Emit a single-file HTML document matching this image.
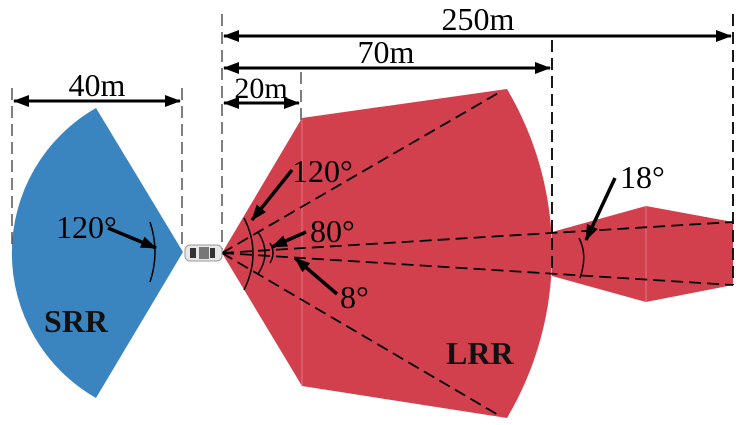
<!DOCTYPE html>
<html><head><style>html,body{margin:0;padding:0;background:#fff;}svg{display:block}</style></head>
<body>
<svg width="742" height="425" viewBox="0 0 742 425" xmlns="http://www.w3.org/2000/svg" font-family="Liberation Serif, serif">
<defs>
<marker id="b" markerWidth="16" markerHeight="12" refX="15" refY="6" orient="auto-start-reverse" markerUnits="userSpaceOnUse" viewBox="0 0 16 12"><path d="M0,0 L16,6 L0,12 z" fill="#000"/></marker>
</defs>
<path d="M183,252 L96,108 A167,167 0 0 0 96,398 Z" fill="#3a85c0"/>
<path d="M552,232 L646,206 L733,222 L733,285 L646,302 L552,276 Z" fill="#d2404e"/>
<path d="M222,253 L302,118 L507,89 A323,323 0 0 1 507,418 L302,386 Z" fill="#d2404e"/>
<line x1="302" y1="118" x2="302" y2="386" stroke="#e07a84" stroke-width="1"/>
<line x1="646" y1="206" x2="646" y2="302" stroke="#e07a84" stroke-width="1"/>
<g stroke="#555" stroke-width="1.5" stroke-dasharray="12,6" fill="none">
<line x1="12" y1="88" x2="12" y2="250"/>
<line x1="182" y1="88" x2="182" y2="250"/>
<line x1="222" y1="14" x2="222" y2="250"/>
<line x1="301" y1="72" x2="301" y2="120"/>
</g>
<g stroke="#000" stroke-width="1.8" stroke-dasharray="12,6" fill="none">
<line x1="552" y1="40" x2="552" y2="270"/>
<line x1="733" y1="14" x2="733" y2="285"/>
<line x1="222" y1="253" x2="500" y2="92"/>
<line x1="222" y1="253" x2="500" y2="416"/>
<line x1="222" y1="253" x2="733" y2="222"/>
<line x1="222" y1="253" x2="733" y2="285"/>
</g>
<g stroke="#000" stroke-width="3" marker-start="url(#b)" marker-end="url(#b)">
<line x1="14" y1="101" x2="180" y2="101"/>
<line x1="224" y1="103" x2="299" y2="103"/>
<line x1="224" y1="68" x2="550" y2="68"/>
<line x1="224" y1="36" x2="731" y2="36"/>
</g>
<g font-size="32" fill="#000">
<text x="97" y="96" text-anchor="middle">40m</text>
<text x="261" y="98" text-anchor="middle" font-size="30">20m</text>
<text x="386" y="63" text-anchor="middle">70m</text>
<text x="478" y="30" text-anchor="middle">250m</text>
<text x="56" y="238">120°</text>
<text x="292" y="182">120°</text>
<text x="310" y="242">80°</text>
<text x="340" y="308">8°</text>
<text x="620" y="188">18°</text>
</g>
<g stroke="#000" stroke-width="1.5" fill="none">
<path d="M150,222 Q160,252 150,282"/>
<path d="M244,218 Q262,253 244,290"/>
<path d="M258,232 Q272,253 258,274"/>
<path d="M270,243 Q276,253 270,263"/>
<path d="M579,238 Q588,255 580,278"/>
</g>
<g stroke="#000" stroke-width="3.5" marker-end="url(#b)">
<line x1="108" y1="228" x2="156" y2="248"/>
<line x1="292" y1="170" x2="252" y2="220"/>
<line x1="306" y1="232" x2="272" y2="247"/>
<line x1="337" y1="294" x2="295" y2="258"/>
<line x1="615" y1="178" x2="586" y2="240"/>
</g>
<rect x="185" y="245" width="37" height="16" rx="5" fill="#e8e8e8" stroke="#999"/>
<rect x="190" y="248" width="6" height="10" fill="#333"/>
<rect x="199" y="247" width="10" height="12" fill="#777"/>
<rect x="210" y="248" width="5" height="10" fill="#333"/>
<g font-size="32" font-weight="bold" fill="#111">
<text x="44" y="332">SRR</text>
<text x="446" y="364">LRR</text>
</g>
</svg>
</body></html>
